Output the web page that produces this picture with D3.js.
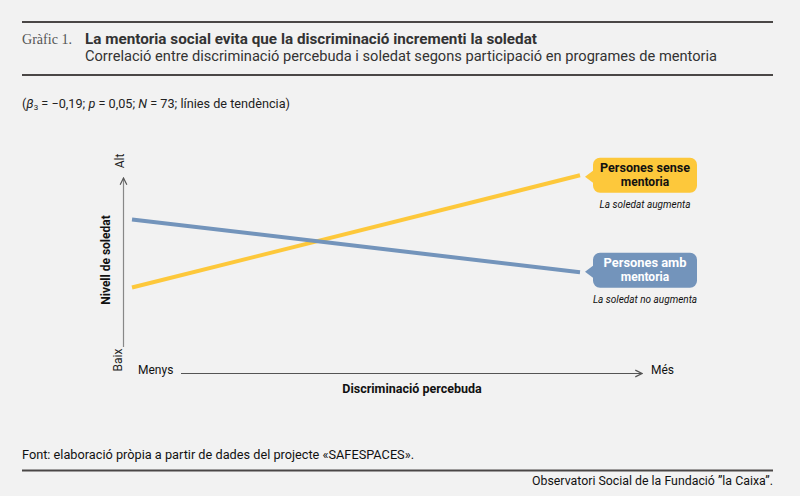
<!DOCTYPE html>
<html>
<head>
<meta charset="utf-8">
<script src="https://cdn.jsdelivr.net/npm/d3@7"></script>
<style>
  html, body { margin: 0; padding: 0; background: #f2f2f2; }
  svg { display: block; }
  text { font-family: Roboto, "Liberation Sans", Arial, sans-serif; }
</style>
</head>
<body>
<svg id="chart" width="800" height="496"></svg>
<script>
// ---- data ----
const xLevels = ["Menys", "Més"];           // perceived discrimination (low → high)
const yLevels = ["Baix", "Alt"];            // loneliness level (low → high)
const seriesNames = ["Persones sense mentoria", "Persones amb mentoria"];
const sinMentoria = [3.5, 10.1];            // loneliness at low / high discrimination
const ambMentoria = [7.5, 4.4];
const seriesNotes = ["La soledat augmenta", "La soledat no augmenta"];
const seriesColors = ["#fdc83b", "#7394bb"];

const W = 800, H = 496;
const svg = d3.select("#chart");
svg.append("rect").attr("width", W).attr("height", H).attr("fill", "#f2f2f2");

// ---- header ----
svg.append("line").attr("x1", 22).attr("x2", 773).attr("y1", 22).attr("y2", 22)
  .attr("stroke", "#4a4746").attr("stroke-width", 2);
svg.append("line").attr("x1", 22).attr("x2", 773).attr("y1", 75).attr("y2", 75)
  .attr("stroke", "#4a4746").attr("stroke-width", 2);
svg.append("text").attr("x", 22).attr("y", 44)
  .style("font-family", "'Liberation Serif', 'DejaVu Serif', serif")
  .attr("font-size", 14.5).attr("fill", "#555")
  .attr("textLength", 50).attr("lengthAdjust", "spacingAndGlyphs").text("Gràfic 1.");
svg.append("text").attr("x", 85).attr("y", 44)
  .attr("font-size", 14).attr("font-weight", "bold").attr("fill", "#333")
  .attr("textLength", 452).attr("lengthAdjust", "spacingAndGlyphs")
  .text("La mentoria social evita que la discriminació incrementi la soledat");
svg.append("text").attr("x", 85).attr("y", 61)
  .attr("font-size", 14).attr("fill", "#333")
  .attr("textLength", 632).attr("lengthAdjust", "spacingAndGlyphs")
  .text("Correlació entre discriminació percebuda i soledat segons participació en programes de mentoria");

// note
const note = svg.append("text").attr("x", 22).attr("y", 108).attr("font-size", 12.7).attr("fill", "#222");
note.append("tspan").text("(");
note.append("tspan").attr("font-style", "italic").text("β");
note.append("tspan").attr("font-size", 8).attr("dy", 2).text("3");
note.append("tspan").attr("dy", -2).text(" = −0,19; ");
note.append("tspan").attr("font-style", "italic").text("p");
note.append("tspan").text(" = 0,05; ");
note.append("tspan").attr("font-style", "italic").text("N");
note.append("tspan").text(" = 73; línies de tendència)");

// ---- scales ----
const x = d3.scalePoint().domain(xLevels).range([132, 580]);
const y = d3.scaleLinear().domain([0, 10]).range([347, 177]);

// arrow marker
const defs = svg.append("defs");
defs.append("marker").attr("id", "arr").attr("viewBox", "0 0 10 10")
  .attr("refX", 9).attr("refY", 5).attr("markerWidth", 7).attr("markerHeight", 7)
  .attr("orient", "auto-start-reverse")
  .append("path").attr("d", "M1,1 L9,5 L1,9").attr("fill", "none")
  .attr("stroke", "#555").attr("stroke-width", 1.4);

// y axis
const yAxisX = 123.5;
svg.append("line").attr("x1", yAxisX).attr("x2", yAxisX)
  .attr("y1", y(0)).attr("y2", y(10) + 1)
  .attr("stroke", "#888").attr("stroke-width", 1.2).attr("marker-end", "url(#arr)");
svg.append("text").attr("transform", `translate(124,${y(10) - 16}) rotate(-90)`)
  .attr("text-anchor", "middle").attr("font-size", 12).attr("fill", "#222").text(yLevels[1]);
svg.append("text").attr("transform", `translate(122,${y(0) + 13}) rotate(-90)`)
  .attr("text-anchor", "middle").attr("font-size", 12).attr("fill", "#222").text(yLevels[0]);
svg.append("text").attr("transform", "translate(110,260) rotate(-90)")
  .attr("text-anchor", "middle").attr("font-size", 12).attr("font-weight", "bold").attr("fill", "#111")
  .text("Nivell de soledat");

// x axis
const xAxisY = 373.5;
svg.append("line").attr("x1", 181).attr("x2", 642).attr("y1", xAxisY).attr("y2", xAxisY)
  .attr("stroke", "#555").attr("stroke-width", 1.2).attr("marker-end", "url(#arr)");
svg.append("text").attr("x", 138).attr("y", 374).attr("font-size", 12).attr("fill", "#111").text(xLevels[0]);
svg.append("text").attr("x", 651).attr("y", 374).attr("font-size", 12).attr("fill", "#111").text(xLevels[1]);
svg.append("text").attr("x", 412).attr("y", 393).attr("text-anchor", "middle")
  .attr("font-size", 12.5).attr("font-weight", "bold").attr("fill", "#111").text("Discriminació percebuda");

// ---- lines ----
const series = [sinMentoria, ambMentoria].map((vals, i) => ({
  name: seriesNames[i], note: seriesNotes[i], color: seriesColors[i],
  points: xLevels.map((k, j) => ({ k, v: vals[j] }))
}));
const line = d3.line().x(d => x(d.k)).y(d => y(d.v));
svg.selectAll("path.series").data(series).join("path")
  .attr("class", "series").attr("d", d => line(d.points))
  .attr("fill", "none").attr("stroke", d => d.color).attr("stroke-width", 4);

// ---- labels ----
const bx = 593, bw = 104, bh = 35, r = 7;
const firstLineWidths = [90, 83];
series.forEach((s, i) => {
  const last = s.points[s.points.length - 1];
  const cy = y(last.v) + (i === 0 ? 1.5 : -0.5);
  const top = cy - 19;
  const g = svg.append("g");
  const p = d3.path();
  p.moveTo(bx + r, top);
  p.lineTo(bx + bw - r, top);
  p.arcTo(bx + bw, top, bx + bw, top + r, r);
  p.lineTo(bx + bw, top + bh - r);
  p.arcTo(bx + bw, top + bh, bx + bw - r, top + bh, r);
  p.lineTo(bx + r, top + bh);
  p.arcTo(bx, top + bh, bx, top + bh - r, r);
  p.lineTo(bx, cy + 6);
  p.lineTo(bx - 8, cy);
  p.lineTo(bx, cy - 6);
  p.lineTo(bx, top + r);
  p.arcTo(bx, top, bx + r, top, r);
  p.closePath();
  g.append("path").attr("d", p.toString()).attr("fill", s.color);
  const words = s.name.split(" ");
  const l1 = words.slice(0, 2).join(" "), l2 = words.slice(2).join(" ");
  const tc = i === 0 ? "#111" : "#fff";
  g.append("text").attr("x", bx + bw / 2).attr("y", top + 14.5).attr("text-anchor", "middle")
    .attr("font-size", 12).attr("font-weight", "bold").attr("fill", tc)
    .attr("textLength", firstLineWidths[i]).attr("lengthAdjust", "spacingAndGlyphs").text(l1);
  g.append("text").attr("x", bx + bw / 2).attr("y", top + 28).attr("text-anchor", "middle")
    .attr("font-size", 12).attr("font-weight", "bold").attr("fill", tc).text(l2);
  g.append("text").attr("x", bx + bw / 2).attr("y", top + bh + 15).attr("text-anchor", "middle")
    .attr("font-size", 10).attr("font-style", "italic").attr("fill", "#111").text(s.note);
});

// ---- footer ----
svg.append("text").attr("x", 22).attr("y", 459).attr("font-size", 12).attr("fill", "#111")
  .attr("textLength", 392).attr("lengthAdjust", "spacingAndGlyphs")
  .text("Font: elaboració pròpia a partir de dades del projecte «SAFESPACES».");
svg.append("line").attr("x1", 22).attr("x2", 773).attr("y1", 470.5).attr("y2", 470.5)
  .attr("stroke", "#4a4746").attr("stroke-width", 2);
svg.append("text").attr("x", 532).attr("y", 485)
  .attr("font-size", 12).attr("fill", "#111")
  .attr("textLength", 241).attr("lengthAdjust", "spacingAndGlyphs")
  .text("Observatori Social de la Fundació ”la Caixa”.");
</script>
</body>
</html>
